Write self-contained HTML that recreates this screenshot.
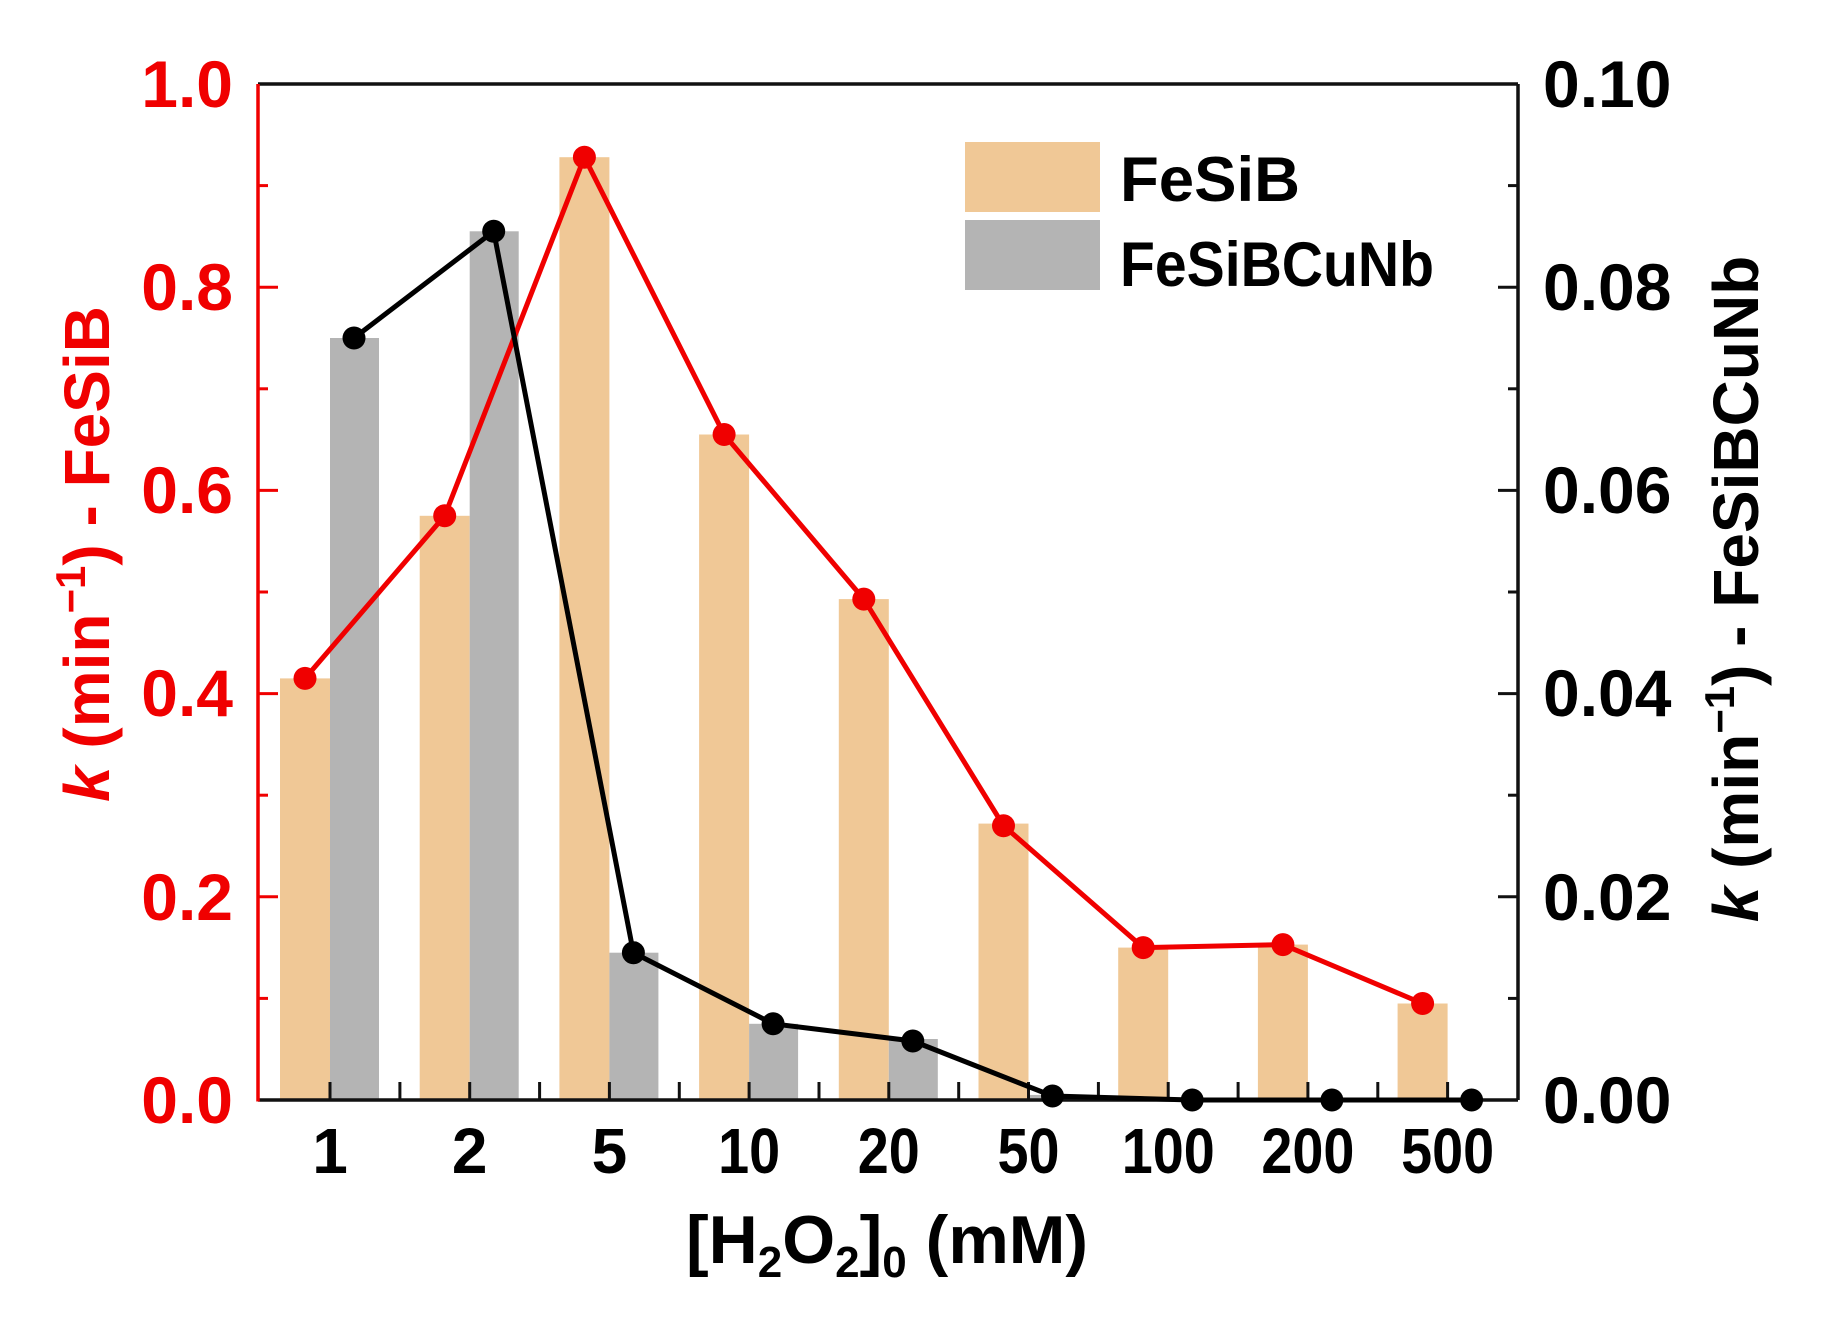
<!DOCTYPE html>
<html><head><meta charset="utf-8"><style>
html,body{margin:0;padding:0;background:#fff;}
svg{display:block;}
text{font-family:"Liberation Sans",Arial,sans-serif;font-weight:bold;}
</style></head><body>
<svg width="1843" height="1322" viewBox="0 0 1843 1322" xmlns="http://www.w3.org/2000/svg">
<rect width="1843" height="1322" fill="#fff"/>
<g fill="#f0c896">
<rect x="280" y="678.4" width="50" height="421.6"/>
<rect x="419.7" y="515.8" width="50" height="584.2"/>
<rect x="559.4" y="157.2" width="50" height="942.8"/>
<rect x="699.1" y="434.5" width="50" height="665.5"/>
<rect x="838.8" y="599.1" width="50" height="500.9"/>
<rect x="978.5" y="823.6" width="50" height="276.4"/>
<rect x="1118.2" y="947.6" width="50" height="152.4"/>
<rect x="1257.9" y="944.6" width="50" height="155.4"/>
<rect x="1397.6" y="1003.5" width="50" height="96.5"/>
</g>
<g fill="#b4b4b4">
<rect x="330" y="338" width="49" height="762"/>
<rect x="469.7" y="231.3" width="49" height="868.7"/>
<rect x="609.4" y="952.7" width="49" height="147.3"/>
<rect x="749.1" y="1023.8" width="49" height="76.2"/>
<rect x="888.8" y="1039" width="49" height="61"/>
<rect x="1028.5" y="1094.9" width="49" height="5.1"/>
</g>
<line x1="258" y1="84" x2="1518" y2="84" stroke="#111" stroke-width="3.5"/>
<line x1="1518" y1="84" x2="1518" y2="1100" stroke="#111" stroke-width="3.5"/>
<line x1="258" y1="1100" x2="1518" y2="1100" stroke="#111" stroke-width="3.5"/>
<line x1="258" y1="84" x2="258" y2="1101.5" stroke="#f00000" stroke-width="3.5"/>
<g stroke="#f00000" stroke-width="3">
<line x1="258" y1="998.4" x2="268" y2="998.4"/>
<line x1="258" y1="896.8" x2="278" y2="896.8"/>
<line x1="258" y1="795.2" x2="268" y2="795.2"/>
<line x1="258" y1="693.6" x2="278" y2="693.6"/>
<line x1="258" y1="592" x2="268" y2="592"/>
<line x1="258" y1="490.4" x2="278" y2="490.4"/>
<line x1="258" y1="388.8" x2="268" y2="388.8"/>
<line x1="258" y1="287.2" x2="278" y2="287.2"/>
<line x1="258" y1="185.6" x2="268" y2="185.6"/>
</g>
<g stroke="#111" stroke-width="3">
<line x1="1518" y1="998.4" x2="1508" y2="998.4"/>
<line x1="1518" y1="896.8" x2="1498" y2="896.8"/>
<line x1="1518" y1="795.2" x2="1508" y2="795.2"/>
<line x1="1518" y1="693.6" x2="1498" y2="693.6"/>
<line x1="1518" y1="592" x2="1508" y2="592"/>
<line x1="1518" y1="490.4" x2="1498" y2="490.4"/>
<line x1="1518" y1="388.8" x2="1508" y2="388.8"/>
<line x1="1518" y1="287.2" x2="1498" y2="287.2"/>
<line x1="1518" y1="185.6" x2="1508" y2="185.6"/>
<line x1="330" y1="1100" x2="330" y2="1082"/><line x1="399.9" y1="1100" x2="399.9" y2="1082"/>
<line x1="469.7" y1="1100" x2="469.7" y2="1082"/><line x1="539.6" y1="1100" x2="539.6" y2="1082"/>
<line x1="609.4" y1="1100" x2="609.4" y2="1082"/><line x1="679.3" y1="1100" x2="679.3" y2="1082"/>
<line x1="749.1" y1="1100" x2="749.1" y2="1082"/><line x1="819" y1="1100" x2="819" y2="1082"/>
<line x1="888.8" y1="1100" x2="888.8" y2="1082"/><line x1="958.7" y1="1100" x2="958.7" y2="1082"/>
<line x1="1028.5" y1="1100" x2="1028.5" y2="1082"/><line x1="1098.4" y1="1100" x2="1098.4" y2="1082"/>
<line x1="1168.2" y1="1100" x2="1168.2" y2="1082"/><line x1="1238.1" y1="1100" x2="1238.1" y2="1082"/>
<line x1="1307.9" y1="1100" x2="1307.9" y2="1082"/><line x1="1377.8" y1="1100" x2="1377.8" y2="1082"/>
<line x1="1447.6" y1="1100" x2="1447.6" y2="1082"/>
</g>
<polyline fill="none" stroke="#f00000" stroke-width="5" points="305,678.4 444.7,515.8 584.4,157.2 724.1,434.5 863.8,599.1 1003.5,825.7 1143.2,947.6 1282.9,944.6 1422.6,1003.5"/>
<g fill="#f00000">
<circle cx="305" cy="678.4" r="11.5"/><circle cx="444.7" cy="515.8" r="11.5"/><circle cx="584.4" cy="157.2" r="11.5"/>
<circle cx="724.1" cy="434.5" r="11.5"/><circle cx="863.8" cy="599.1" r="11.5"/><circle cx="1003.5" cy="825.7" r="11.5"/>
<circle cx="1143.2" cy="947.6" r="11.5"/><circle cx="1282.9" cy="944.6" r="11.5"/><circle cx="1422.6" cy="1003.5" r="11.5"/>
</g>
<polyline fill="none" stroke="#000" stroke-width="5" points="354,338 493.7,231.3 633.4,952.7 773.1,1023.8 912.8,1041 1052.5,1096 1192.2,1100 1331.9,1100 1471.6,1100"/>
<g fill="#000">
<circle cx="354" cy="338" r="11.5"/><circle cx="493.7" cy="231.3" r="11.5"/><circle cx="633.4" cy="952.7" r="11.5"/>
<circle cx="773.1" cy="1023.8" r="11.5"/><circle cx="912.8" cy="1041" r="11.5"/><circle cx="1052.5" cy="1096" r="11.5"/>
<circle cx="1192.2" cy="1100" r="11.5"/><circle cx="1331.9" cy="1100" r="11.5"/><circle cx="1471.6" cy="1100" r="11.5"/>
</g>
<g fill="#f00000" font-size="66" text-anchor="end">
<text x="233" y="1123">0.0</text>
<text x="233" y="920">0.2</text>
<text x="233" y="716">0.4</text>
<text x="233" y="513">0.6</text>
<text x="233" y="310">0.8</text>
<text x="233" y="107">1.0</text>
</g>
<g fill="#000" font-size="66" text-anchor="start">
<text x="1543" y="1123">0.00</text>
<text x="1543" y="920">0.02</text>
<text x="1543" y="716">0.04</text>
<text x="1543" y="513">0.06</text>
<text x="1543" y="310">0.08</text>
<text x="1543" y="107">0.10</text>
</g>
<g fill="#000" font-size="64" text-anchor="middle">
<text x="330" y="1173">1</text>
<text x="469.7" y="1173">2</text>
<text x="609.4" y="1173">5</text>
<text x="749.1" y="1173" textLength="62" lengthAdjust="spacingAndGlyphs">10</text>
<text x="888.8" y="1173" textLength="62" lengthAdjust="spacingAndGlyphs">20</text>
<text x="1028.5" y="1173" textLength="62" lengthAdjust="spacingAndGlyphs">50</text>
<text x="1168.2" y="1173" textLength="93" lengthAdjust="spacingAndGlyphs">100</text>
<text x="1307.9" y="1173" textLength="93" lengthAdjust="spacingAndGlyphs">200</text>
<text x="1447.6" y="1173" textLength="93" lengthAdjust="spacingAndGlyphs">500</text>
</g>
<text x="686" y="1263" font-size="68" fill="#000">[H<tspan font-size="44" dy="14">2</tspan><tspan dy="-14">O</tspan><tspan font-size="44" dy="14">2</tspan><tspan dy="-14">]</tspan><tspan font-size="44" dy="14">0</tspan><tspan dy="-14"> (mM)</tspan></text>
<rect x="965" y="142" width="135" height="70" fill="#f0c896"/>
<rect x="965" y="220" width="135" height="70" fill="#b4b4b4"/>
<text x="1120" y="201" font-size="63" fill="#000" textLength="180" lengthAdjust="spacingAndGlyphs">FeSiB</text>
<text x="1120" y="286" font-size="63" fill="#000" textLength="314" lengthAdjust="spacingAndGlyphs">FeSiBCuNb</text>
<text transform="translate(109,554) rotate(-90)" text-anchor="middle" font-size="64" fill="#f00000"><tspan font-style="italic">k</tspan> (min<tspan font-size="42" dy="-24">−1</tspan><tspan dy="24">) - FeSiB</tspan></text>
<text transform="translate(1758,589) rotate(-90)" text-anchor="middle" font-size="64" fill="#000"><tspan font-style="italic">k</tspan> (min<tspan font-size="42" dy="-24">−1</tspan><tspan dy="24">) - FeSiBCuNb</tspan></text>
</svg>
</body></html>
